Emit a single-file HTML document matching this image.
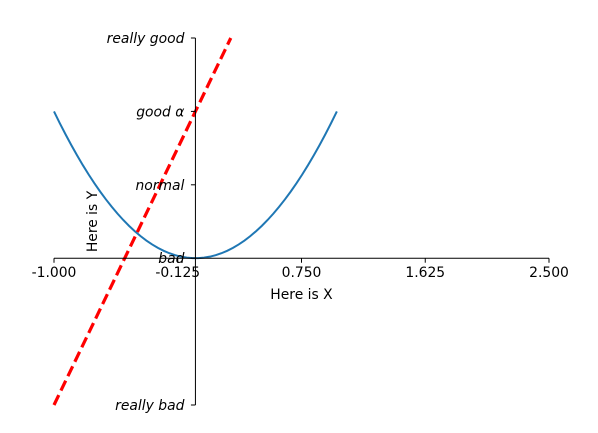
<!DOCTYPE html>
<html><head><meta charset="utf-8"><style>
body{margin:0;background:#fff;}
svg{display:block;font-family:"DejaVu Sans","Liberation Sans",sans-serif;}
</style></head><body>
<svg id="chart" width="598" height="433" viewBox="0 0 598 433">
<g id="marks"></g>
<g id="axes"></g>
</svg>
<script>
const curveX = [];
for (let i = 0; i < 50; i++) curveX.push(-1 + 2 * i / 49);
const lineSlope = 2;
const lineIntercept = 1;
const xTicks = [-1, -0.125, 0.75, 1.625, 2.5];
const xTickLabels = ["-1.000", "-0.125", "0.750", "1.625", "2.500"];
const yTicks = [-1, 0, 0.5, 1, 1.5];
const yTickLabels = ["really bad", "bad", "normal", "good \u03b1", "really good"];
const xMin = -1, xMax = 2.5, yMin = -1, yMax = 1.5;
const L = 54, R = 549, T = 38, B = 405;
const FS = 13.9;
const sx = v => L + (v - xMin) / (xMax - xMin) * (R - L);
const sy = v => B - (v - yMin) / (yMax - yMin) * (B - T);
const NS = "http://www.w3.org/2000/svg";
const marks = document.getElementById('marks');
const axes = document.getElementById('axes');
function mk(tag, attrs, parent) {
  const e = document.createElementNS(NS, tag);
  for (const k in attrs) e.setAttribute(k, attrs[k]);
  parent.appendChild(e);
  return e;
}
const pd = curveX.map((x, i) => (i ? 'L' : 'M') + sx(x).toFixed(2) + ',' + sy(x * x).toFixed(2)).join('');
const curve = mk('path', {d: pd, fill: 'none', stroke: '#1f77b4', 'stroke-width': 2}, marks);


const x0 = (yMin - lineIntercept) / lineSlope, x1 = (yMax - lineIntercept) / lineSlope;
const ln = mk('line', {x1: sx(x0), y1: sy(yMin), x2: sx(x1), y2: sy(yMax), stroke: '#ff0000', 'stroke-width': 3.2, 'stroke-dasharray': '11,5'}, marks);


const x0p = sx(0), y0p = sy(0);
const lsp = mk('line', {x1: x0p, y1: T, x2: x0p, y2: B, stroke: '#000', 'stroke-width': 1}, axes);


const bsp = mk('line', {x1: L, y1: y0p, x2: R, y2: y0p, stroke: '#000', 'stroke-width': 1}, axes);


xTicks.forEach((v, i) => {
  const tk = mk('line', {x1: sx(v), y1: y0p, x2: sx(v), y2: y0p + 4.5, stroke: '#000'}, axes);
  
  
  const t = mk('text', {x: sx(v), y: y0p + 19, 'text-anchor': 'middle', 'font-size': FS}, axes);
  t.textContent = xTickLabels[i];
  
  
});
yTicks.forEach((v, i) => {
  const tk = mk('line', {x1: x0p - 4.5, y1: sy(v), x2: x0p, y2: sy(v), stroke: '#000'}, axes);
  
  
  const t = mk('text', {x: x0p - 11, y: sy(v) + 5, 'text-anchor': 'end', 'font-size': FS, 'font-style': 'italic'}, axes);
  t.textContent = yTickLabels[i];
  
  
});
const xt = mk('text', {x: (L + R) / 2, y: 299, 'text-anchor': 'middle', 'font-size': FS}, axes);
xt.textContent = 'Here is X';


const yt = mk('text', {x: 0, y: 0, 'text-anchor': 'middle', 'font-size': FS, transform: 'translate(97,' + ((T + B) / 2) + ') rotate(-90)'}, axes);
yt.textContent = 'Here is Y';


</script>
</body></html>
